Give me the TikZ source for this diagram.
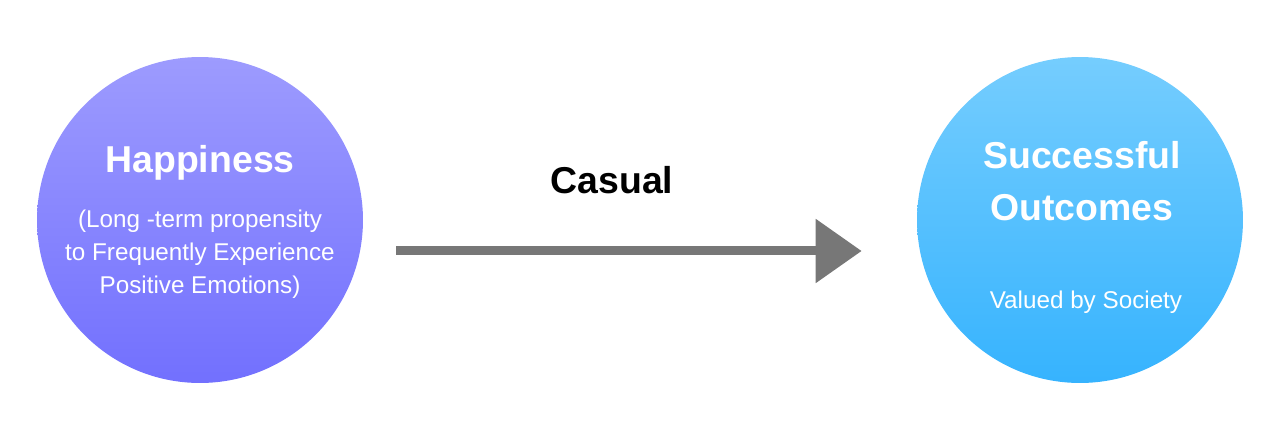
\documentclass[tikz,border=0pt]{standalone}
\usepackage{fontspec}
\setmainfont{Liberation Sans}
\usetikzlibrary{arrows.meta}
\usetikzlibrary{positioning}

\definecolor{hauthap}{HTML}{9D9BFE}
\definecolor{bashap}{HTML}{7270FE}
\definecolor{hautsuc}{HTML}{75CDFE}
\definecolor{bassuc}{HTML}{36B3FE}
\definecolor{gris}{HTML}{777777}

\begin{document}
\begin{tikzpicture}[x=0.02cm,y=-0.02cm]
	\useasboundingbox (0,0) rectangle (1276,420);
	\begin{scope}[every node/.style={text=white}]
		% les deux cercles
		\node (HAP) at (200,220) [circle,inner sep=0pt,minimum size=6.52cm,top color=hauthap,bottom color=bashap] {};
		\node (SUC) at (1080,220) [circle,inner sep=0pt,minimum size=6.52cm,top color=hautsuc,bottom color=bassuc] {};
		% textes des cercles
		\node (HAPTIT) at (200,172) [anchor=base,font=\bfseries\fontsize{21.3}{25}\selectfont] {Happiness};
		\node (HAPSOUS) at (200,254) [font=\fontsize{13.8}{18.8}\selectfont] {\begin{tabular}{c}(Long -term propensity\\to Frequently Experience\\Positive Emotions)\end{tabular}};
		\node (SUCTIT) at (1082,184) [font=\bfseries\fontsize{21.3}{29.5}\selectfont] {\begin{tabular}{c}Successful\\Outcomes\end{tabular}};
		\node (SUCSOUS) at (1086,308) [anchor=base,font=\fontsize{13.8}{18.8}\selectfont] {Valued by Society};
	\end{scope}
	% la flèche
	\draw[gris,line width=0.18cm,-{Triangle[length=0.92cm,width=1.24cm]},shorten <=0.66cm,shorten >=1.1cm] ([yshift=-0.62cm]HAP.east) -- ([yshift=-0.62cm]SUC.west);
	\node (CAUSE) at (612,193) [anchor=base,font=\bfseries\fontsize{21.3}{25}\selectfont] {Casual};
\end{tikzpicture}
\end{document}
